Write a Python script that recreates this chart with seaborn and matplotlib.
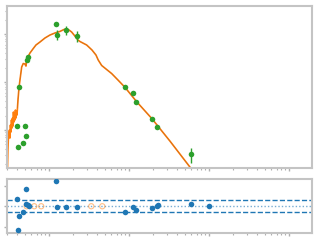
import numpy as np
import pandas as pd
import matplotlib
matplotlib.use("Agg")
import matplotlib.pyplot as plt
import seaborn as sns

# ---- data ----
# model spectrum (wavelength in micron, flux)
model_wave = [0.0303, 0.0307, 0.0312, 0.0321, 0.0325, 0.0330, 0.0335, 0.0340, 0.0345, 0.0350,
              0.0355, 0.0360, 0.0365, 0.0371, 0.0376, 0.0381, 0.0387, 0.0393, 0.0398, 0.0404,
              0.0410, 0.0422, 0.0434, 0.0456, 0.0477, 0.0501, 0.0516, 0.0523, 0.0546, 0.0579,
              0.0637, 0.0688, 0.0772, 0.0891, 0.103, 0.119, 0.137, 0.154, 0.166, 0.178,
              0.192, 0.211, 0.230, 0.244, 0.296, 0.345, 0.387, 0.413, 0.456, 0.516,
              0.608, 0.729, 0.891, 1.248, 1.922, 3.25, 5.79, 6.68]
model_flux = [1.47e-13, 3.83e-13, 7.87e-13, 1.0e-12, 6.81e-13, 1.27e-12, 9.08e-13, 1.62e-12, 1.10e-12, 1.78e-12,
              1.21e-12, 2.37e-12, 1.47e-12, 2.05e-12, 1.62e-12, 2.61e-12, 1.78e-12, 2.37e-12, 2.05e-12, 2.87e-12,
              4.22e-12, 7.50e-12, 1.10e-11, 2.05e-11, 2.43e-11, 2.37e-11, 2.15e-11, 2.74e-11, 3.32e-11, 4.02e-11,
              4.99e-11, 5.90e-11, 6.81e-11, 8.25e-11, 9.53e-11, 1.05e-10, 1.13e-10, 1.24e-10, 1.27e-10, 1.21e-10,
              1.10e-10, 9.08e-11, 7.50e-11, 6.98e-11, 5.90e-11, 4.64e-11, 3.65e-11, 2.87e-11, 2.21e-11, 1.87e-11,
              1.50e-11, 1.10e-11, 7.76e-12, 3.89e-12, 1.75e-12, 5.90e-13, 1.69e-13, 1.21e-13]

# observed photometry
obs_wave = [0.0402, 0.0413, 0.0425, 0.0477, 0.0506, 0.0520, 0.0531, 0.0546, 0.1234, 0.127,
            0.1645, 0.222, 0.891, 1.132, 1.233, 1.955, 2.26, 6.01]
obs_flux = [1.21e-12, 4.36e-13, 7.76e-12, 5.28e-13, 1.21e-12, 7.5e-13, 2.87e-11, 3.32e-11, 1.615e-10, 9.67e-11,
            1.21e-10, 9.08e-11, 7.76e-12, 5.82e-12, 3.77e-12, 1.69e-12, 1.15e-12, 3.12e-13]
obs_err = [0, 0, 0, 0, 0, 0, 2e-12, 2e-12, 0, 2.3e-11,
           2.4e-11, 2.2e-11, 0, 0, 0, 0, 0, 1.1e-13]

# residuals
res_wave = [0.0402, 0.0413, 0.0425, 0.0477, 0.0512, 0.0520, 0.0542, 0.0562, 0.1234, 0.127,
            0.1645, 0.222, 0.890, 1.132, 1.233, 1.955, 2.26, 2.30, 6.01, 10.1]
res_val = [0.34, -1.17, -0.49, -0.29, 0.10, 0.83, 0.05, 0.01, 1.22, -0.05,
           -0.05, -0.05, -0.29, -0.05, -0.20, -0.10, 0.0, 0.06, 0.10, 0.0]
# filters without measurement (shown as faint open circles)
nodata_wave = [0.0526, 0.0655, 0.0801, 0.338, 0.464]
nodata_val = [0.0, 0.0, 0.0, 0.0, 0.0]

res_band = 0.29
xlim = (0.0299, 194.0)
ylim = (1.62e-13, 3.83e-10)
rylim = (-1.31, 1.33)

# ---- plot ----
sns.set_style("white")
fig = plt.figure(figsize=(3.2, 2.4), dpi=100)
ax = fig.add_axes([0.0219, 0.30, 0.9531, 0.675])
axr = fig.add_axes([0.0219, 0.029, 0.9531, 0.225])

mdf = pd.DataFrame({"wave": model_wave, "flux": model_flux})
sns.lineplot(data=mdf, x="wave", y="flux", ax=ax, color="tab:orange", lw=1.2, sort=False)
smooth = mdf[mdf["wave"] >= 0.0404]
sns.lineplot(data=smooth, x="wave", y="flux", ax=ax, color="#b5651d", lw=0.5, alpha=0.6, sort=False)

ax.errorbar(obs_wave, obs_flux, yerr=obs_err, fmt="none", ecolor="tab:green", elinewidth=1, zorder=3)
odf = pd.DataFrame({"wave": obs_wave, "flux": obs_flux})
sns.scatterplot(data=odf, x="wave", y="flux", ax=ax, color="tab:green", s=16, linewidth=0, zorder=4)

ax.set_xscale("log")
ax.set_yscale("log")
ax.set_xlim(*xlim)
ax.set_ylim(*ylim)

rdf = pd.DataFrame({"wave": res_wave, "res": res_val})
sns.scatterplot(data=rdf, x="wave", y="res", ax=axr, color="tab:blue", s=16, linewidth=0, zorder=4)
ndf = pd.DataFrame({"wave": nodata_wave, "res": nodata_val})
sns.scatterplot(data=ndf, x="wave", y="res", ax=axr, facecolor="none", edgecolor="tab:orange",
                s=14, linewidth=0.8, alpha=0.5, zorder=3)
axr.axhline(0, color="tab:blue", ls=(0, (1, 1.5)), lw=1, alpha=0.6)
axr.axhline(res_band, color="tab:blue", ls="--", lw=1)
axr.axhline(-res_band, color="tab:blue", ls="--", lw=1)
axr.set_xscale("log")
axr.set_xlim(*xlim)
axr.set_ylim(*rylim)
axr.set_yticks([-1, 0, 1])

for a in (ax, axr):
    a.set_xlabel("")
    a.set_ylabel("")
    for s in a.spines.values():
        s.set_color("#c4c4c4")
        s.set_linewidth(1.5)
    a.tick_params(which="both", direction="out", colors="#b0b0b0",
                  labelleft=False, labelbottom=False, left=True, bottom=True)
    a.tick_params(which="major", length=2.5, width=1)
    a.tick_params(which="minor", length=1.5, width=0.8)

fig.savefig("out.png", dpi=100)
